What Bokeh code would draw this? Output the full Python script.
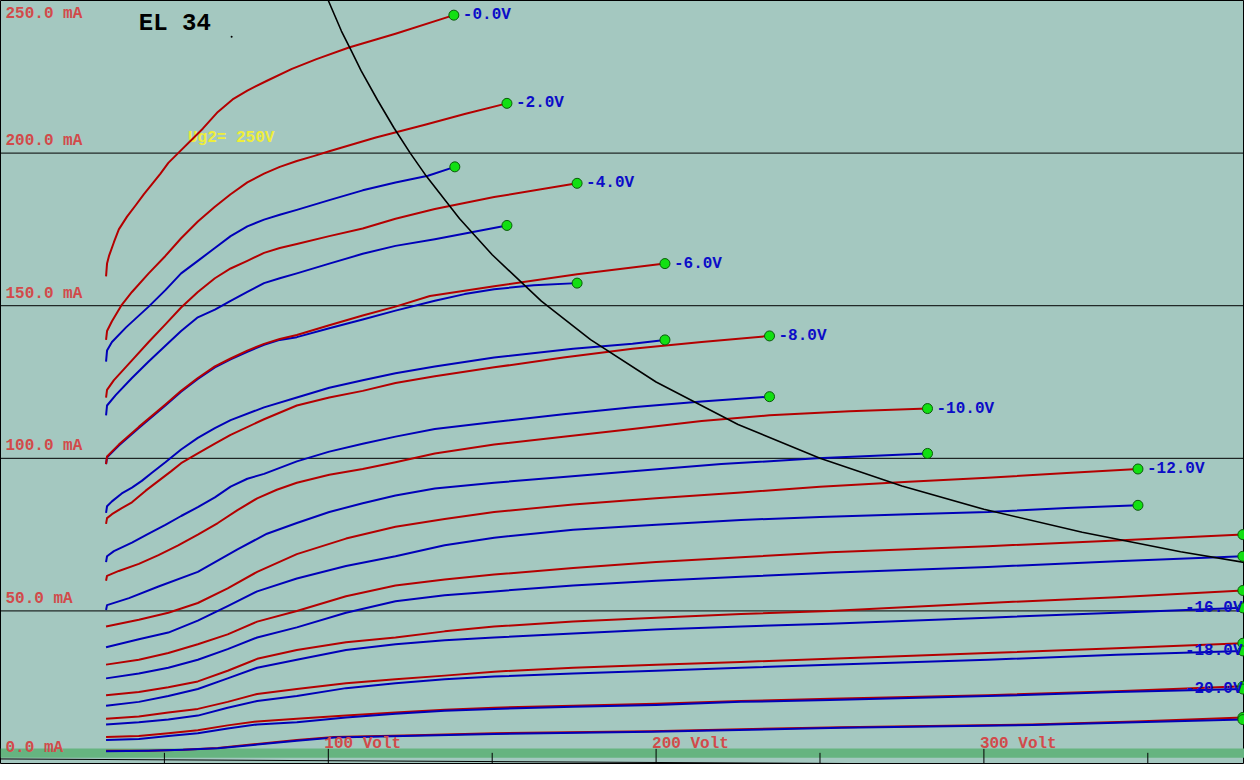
from bokeh.plotting import figure
from bokeh.models import Span, BoxAnnotation, ColumnDataSource
from bokeh.embed import file_html
from bokeh.resources import INLINE
from bokeh.core.properties import value

# ---------------- data (anode volts, anode mA) ----------------
# red family
r00_v = [32.2, 32.5, 33.1, 34.6, 36.1, 38.6, 41.3, 43.7, 46.1, 48.8, 51.2, 54.2, 61.7, 66.3,
         70.8, 75.3, 81.3, 88.9, 96.4, 106.3, 120.5, 138.3]
r00_i = [159.6, 163.8, 166.3, 170.8, 175.0, 179.2, 183.0, 186.5, 189.7, 193.3, 196.8, 200.0,
         208.0, 213.5, 217.6, 220.5, 223.7, 227.6, 230.8, 234.6, 239.1, 245.2]
r02_v = [32.2, 32.5, 34.0, 37.0, 40.1, 45.2, 50.3, 55.1, 60.2, 65.4, 70.2, 75.3, 80.4, 85.2,
         90.4, 95.5, 100.3, 114.5, 129.5, 141.6, 154.5]
r02_i = [138.8, 141.7, 144.9, 150.3, 154.5, 160.6, 166.3, 172.1, 177.6, 182.4, 186.5, 190.4,
         193.3, 195.5, 197.4, 199.0, 200.6, 205.1, 209.3, 212.8, 216.3]
r04_v = [32.2, 32.5, 34.6, 40.1, 45.2, 50.3, 55.1, 60.2, 65.4, 70.2, 75.3, 80.4, 85.2, 90.4,
         100.3, 110.5, 120.5, 132.5, 150.6, 175.9]
r04_i = [119.9, 122.4, 125.6, 132.1, 138.1, 143.9, 149.4, 154.5, 159.0, 162.2, 164.7, 167.3,
         168.9, 170.2, 172.8, 175.3, 178.5, 181.7, 185.6, 190.1]
r06_v = [32.2, 32.5, 36.1, 42.2, 50.3, 55.1, 60.2, 65.4, 70.2, 75.3, 80.4, 85.2, 90.4, 100.3,
         110.5, 120.5, 131.0, 150.6, 175.9, 202.7]
r06_i = [98.1, 100.6, 104.5, 110.3, 117.6, 122.1, 126.3, 130.1, 132.7, 135.3, 137.5, 139.1,
         140.4, 143.6, 146.8, 149.7, 153.2, 156.4, 160.3, 163.8]
r08_v = [32.2, 32.5, 34.0, 37.0, 40.1, 44.3, 48.2, 52.1, 55.1, 60.2, 65.4, 70.2, 80.4, 90.4,
         100.3, 110.5, 120.5, 132.5, 150.6, 171.7, 192.8, 213.9, 234.6]
r08_i = [78.5, 80.4, 81.7, 83.7, 85.6, 89.4, 92.6, 95.8, 98.4, 101.6, 104.8, 107.7, 112.8,
         117.3, 119.9, 122.1, 124.7, 126.9, 129.8, 133.0, 135.9, 138.1, 140.1]
r10_v = [32.2, 32.5, 36.1, 42.2, 48.2, 54.2, 60.2, 66.3, 72.3, 78.3, 84.3, 90.4, 100.3, 110.5,
         120.5, 132.5, 150.6, 171.7, 192.8, 213.9, 234.6, 259.0, 282.8]
r10_i = [59.9, 61.5, 63.1, 65.4, 68.3, 71.5, 75.0, 78.8, 83.0, 86.9, 89.7, 92.0, 94.6, 96.5,
         98.7, 101.6, 104.5, 107.1, 109.6, 112.2, 114.1, 115.4, 116.3]
r12_v = [32.2, 42.2, 51.2, 60.2, 69.3, 78.3, 90.4, 105.4, 120.5, 135.5, 150.6, 174.7, 200.0,
         225.9, 250.0, 277.1, 301.2, 325.3, 347.0]
r12_i = [44.9, 47.1, 49.4, 52.6, 57.4, 62.8, 68.6, 73.7, 77.6, 80.1, 82.4, 84.9, 86.9, 88.8,
         90.7, 92.3, 93.6, 95.2, 96.5]
r14_v = [32.2, 42.2, 51.2, 60.2, 69.3, 78.3, 90.4, 105.4, 120.5, 135.5, 150.6, 174.7, 200.0,
         225.9, 253.0, 301.2, 340.4, 379.0]
r14_i = [32.4, 34.0, 36.2, 39.1, 42.3, 46.5, 50.0, 54.8, 58.3, 60.3, 61.9, 64.1, 66.0, 67.6,
         69.2, 71.2, 73.1, 75.0]
r16_v = list(r14_v)
r16_i = [22.4, 23.4, 25.0, 26.9, 30.4, 34.3, 37.2, 39.7, 41.3, 43.3, 44.9, 46.5, 47.8, 49.0,
         50.0, 52.6, 54.5, 56.7]
r18_v = list(r14_v)
r18_i = [14.7, 15.4, 16.7, 17.9, 20.2, 22.8, 24.4, 26.3, 27.6, 28.8, 30.1, 31.4, 32.4, 33.3,
         34.3, 36.2, 37.8, 39.4]
r20_v = list(r14_v)
r20_i = [8.7, 9.0, 9.9, 10.9, 12.5, 13.8, 14.7, 15.7, 16.7, 17.6, 18.3, 18.9, 19.6, 20.5,
         21.2, 22.4, 23.7, 25.3]
r22_v = [32.2, 45.2, 55.7, 66.3, 78.3, 90.4, 101.8, 126.5, 150.6, 198.5, 256.6, 314.8, 346.4, 379.0]
r22_i = [4.2, 4.2, 4.5, 5.1, 6.4, 7.7, 8.7, 9.3, 9.9, 10.6, 11.9, 12.8, 13.8, 15.1]

# blue family
b00_v = [32.2, 32.5, 34.0, 38.3, 45.2, 50.3, 55.1, 60.2, 65.4, 70.2, 75.3, 80.4, 85.2, 90.4,
         100.3, 110.5, 120.5, 130.4, 138.6]
b00_i = [131.7, 135.3, 138.1, 142.9, 149.7, 155.1, 160.6, 164.7, 168.9, 172.8, 176.0, 178.2,
         179.8, 181.4, 184.6, 187.8, 190.4, 192.6, 195.5]
b02_v = [32.2, 32.5, 35.2, 40.1, 45.2, 50.3, 55.1, 60.2, 65.4, 70.2, 75.3, 80.4, 85.2, 90.4,
         100.3, 110.5, 120.5, 132.5, 154.5]
b02_i = [114.1, 117.3, 120.8, 126.3, 131.7, 136.9, 141.7, 146.2, 148.7, 151.6, 154.5, 157.4,
         159.0, 160.6, 163.8, 167.0, 169.6, 171.8, 176.3]
b04_v = [32.2, 32.5, 36.1, 42.2, 50.3, 55.1, 60.2, 65.4, 70.2, 75.3, 80.4, 85.2, 90.4, 100.3,
         110.5, 120.5, 132.5, 141.6, 150.6, 162.7, 175.9]
b04_i = [98.1, 100.3, 104.2, 109.9, 117.3, 121.8, 126.0, 129.8, 132.4, 134.9, 137.2, 138.8,
         139.7, 142.6, 145.5, 148.4, 151.6, 153.8, 155.4, 156.7, 157.4]
b06_v = [32.2, 32.5, 34.0, 37.0, 40.1, 43.1, 46.1, 50.3, 55.1, 60.2, 65.4, 70.2, 80.4, 90.4,
         100.3, 110.5, 120.5, 132.5, 150.6, 174.7, 192.8, 202.7]
b06_i = [82.1, 84.3, 85.9, 88.5, 90.4, 92.6, 95.2, 98.7, 102.9, 106.7, 109.9, 112.5, 116.7,
         119.9, 123.1, 125.6, 127.9, 130.1, 133.0, 135.9, 137.5, 138.8]
b08_v = [32.2, 32.5, 34.6, 40.1, 45.2, 50.3, 55.1, 60.2, 65.4, 70.2, 75.3, 80.4, 90.4, 100.3,
         110.5, 120.5, 132.5, 150.6, 171.7, 192.8, 213.9, 234.6]
b08_i = [66.0, 67.9, 69.6, 72.4, 75.3, 78.2, 81.1, 84.0, 87.2, 90.7, 93.3, 94.9, 99.0, 102.2,
         104.8, 107.1, 109.6, 111.9, 114.4, 116.7, 118.6, 120.2]
b10_v = [32.2, 32.5, 39.2, 48.2, 60.2, 72.3, 81.3, 90.4, 100.3, 110.5, 120.5, 132.5, 150.6,
         171.7, 192.8, 219.9, 249.1, 282.8]
b10_i = [50.3, 51.9, 54.2, 58.0, 62.8, 70.2, 75.3, 78.8, 82.4, 85.3, 87.8, 90.1, 92.0, 93.9,
         95.8, 98.1, 100.0, 101.6]
b12_v = list(r12_v)
b12_i = [38.1, 40.7, 42.9, 46.8, 51.6, 56.4, 60.6, 64.7, 67.9, 71.5, 74.0, 76.6, 78.2, 79.8,
         80.8, 81.7, 82.4, 83.7, 84.6]
b14_v = list(r14_v)
b14_i = [27.9, 29.5, 31.4, 34.0, 37.5, 41.3, 44.6, 49.4, 53.2, 55.1, 56.4, 58.3, 59.9, 61.2,
         62.5, 64.4, 66.3, 67.9]
b16_v = list(r14_v)
b16_i = [18.9, 20.2, 22.1, 24.4, 27.9, 31.4, 34.0, 37.2, 39.1, 40.4, 41.3, 42.6, 43.9, 44.9,
         45.8, 47.8, 49.4, 51.0]
b18_v = list(r14_v)
b18_i = [12.8, 13.5, 14.4, 15.7, 18.3, 20.5, 22.1, 24.7, 26.3, 27.6, 28.5, 29.5, 30.4, 31.4,
         32.4, 34.0, 35.6, 36.9]
b20_v = list(r14_v)
b20_i = [7.7, 8.0, 9.0, 9.9, 11.5, 12.8, 13.5, 15.1, 16.3, 17.3, 17.9, 18.6, 19.2, 20.2,
         20.8, 22.1, 23.4, 24.4]
b22_v = list(r22_v)
b22_i = [4.0, 4.2, 4.5, 5.0, 6.2, 7.5, 8.5, 9.1, 9.7, 10.4, 11.7, 12.6, 13.5, 14.4]

# labels of the red family (drawn beside the end point)
red_labels = ["-0.0V", "-2.0V", "-4.0V", "-6.0V", "-8.0V", "-10.0V", "-12.0V"]
# labels drawn at the right edge (next to blue end points of -16, -18, -20 V)
edge_labels = ["-16.0V", "-18.0V", "-20.0V"]

# 25 W anode dissipation limit
pmax_v = [100, 102, 104, 107, 110, 115, 120, 125, 130, 140, 150, 165, 180, 200, 225, 250,
          275, 300, 330, 360, 380]
pmax_i = [250, 245, 240, 233.6, 227, 217.4, 208.3, 200, 192.3, 178.6, 166.7, 151.5, 138.9,
          125, 111.1, 100, 90.9, 83.3, 75.8, 69.4, 65.8]

# faint baseline line at the bottom
base_v = [0, 380]
base_i = [1.5, -0.7]

y_ticks = [0, 50, 100, 150, 200, 250]
y_tick_labels = ["0.0 mA", "50.0 mA", "100.0 mA", "150.0 mA", "200.0 mA", "250.0 mA"]
x_major = [100, 200, 300]
x_major_labels = ["100 Volt", "200 Volt", "300 Volt"]
x_minor = [50, 150, 250, 350]

title_text = "EL 34"
note_text = "Ug2= 250V"

# ---------------- styling ----------------
BG = "#a4c8c0"
RED = "#b40000"
BLUE = "#0000b8"
AX_RED = "#d24a4a"
LBL_BLUE = "#0c0cc8"
DOT_FILL = "#12e012"
DOT_LINE = "#0a5a0a"
FONT = value("Liberation Mono")

X_END = 379.5
Y_START, Y_END = -0.32, 250.0

W, H = 1244, 764
p = figure(width=W, height=H, x_range=(0, X_END), y_range=(Y_START, Y_END),
           output_backend="svg", toolbar_location=None, min_border=0,
           x_axis_location=None, y_axis_location=None,
           background_fill_color=BG, border_fill_color=BG)
p.grid.visible = False
p.outline_line_color = "black"
p.outline_line_width = 1

# green band along the bottom
p.add_layout(BoxAnnotation(bottom=1.9, top=4.9, fill_color="#66b480", fill_alpha=1.0,
                           line_color=None, level="underlay"))
# horizontal grid lines
for t in y_ticks[1:]:
    p.add_layout(Span(location=t, dimension="width", line_color="black",
                      line_width=1, level="underlay"))

# bottom line and ticks
p.line(base_v, base_i, line_color="black", line_width=1)
p.segment(x0=x_major, y0=[Y_START] * len(x_major), x1=x_major, y1=[4.8] * len(x_major),
          line_color="black", line_width=1)
p.segment(x0=x_minor, y0=[Y_START] * len(x_minor), x1=x_minor, y1=[3.5] * len(x_minor),
          line_color="black", line_width=1)

# note text (under the curves)
p.text(x=[57.2], y=[204.8], text=[note_text], text_font=FONT, text_font_style="bold",
       text_font_size="16px", text_color="#eeee3a", text_align="left", text_baseline="middle")

red_curves = [(r00_v, r00_i), (r02_v, r02_i), (r04_v, r04_i), (r06_v, r06_i),
              (r08_v, r08_i), (r10_v, r10_i), (r12_v, r12_i), (r14_v, r14_i),
              (r16_v, r16_i), (r18_v, r18_i), (r20_v, r20_i), (r22_v, r22_i)]
blue_curves = [(b00_v, b00_i), (b02_v, b02_i), (b04_v, b04_i), (b06_v, b06_i),
               (b08_v, b08_i), (b10_v, b10_i), (b12_v, b12_i), (b14_v, b14_i),
               (b16_v, b16_i), (b18_v, b18_i), (b20_v, b20_i), (b22_v, b22_i)]

for (rv, ri), (bv, bi) in zip(red_curves, blue_curves):
    p.line(rv, ri, line_color=RED, line_width=2, line_join="round")
    p.line(bv, bi, line_color=BLUE, line_width=2, line_join="round")

# dissipation hyperbola
p.line(pmax_v, pmax_i, line_color="black", line_width=1.6, line_join="round")

# end dots
ends_v = [c[0][-1] for c in red_curves] + [c[0][-1] for c in blue_curves]
ends_i = [c[1][-1] for c in red_curves] + [c[1][-1] for c in blue_curves]
p.scatter(ends_v, ends_i, size=10, fill_color=DOT_FILL, line_color=DOT_LINE, line_width=1)

# red-curve labels
lab_src = ColumnDataSource(dict(
    x=[c[0][-1] for c in red_curves[:len(red_labels)]],
    y=[c[1][-1] for c in red_curves[:len(red_labels)]],
    t=red_labels))
p.text(x="x", y="y", text="t", source=lab_src, x_offset=9, text_font=FONT,
       text_font_style="bold", text_font_size="16px", text_color=LBL_BLUE,
       text_align="left", text_baseline="middle")

# labels at the right edge
edge_src = ColumnDataSource(dict(
    x=[X_END] * len(edge_labels),
    y=[c[1][-1] for c in blue_curves[8:8 + len(edge_labels)]],
    t=edge_labels))
p.text(x="x", y="y", text="t", source=edge_src, x_offset=-2, text_font=FONT,
       text_font_style="bold", text_font_size="16px", text_color=LBL_BLUE,
       text_align="right", text_baseline="middle")

# y axis labels inside the plot
yo = [-16 if t == y_ticks[0] else (13 if t == y_ticks[-1] else -12) for t in y_ticks]
ylab_src = ColumnDataSource(dict(x=[0] * len(y_ticks), y=y_ticks, t=y_tick_labels, yo=yo))
p.text(x="x", y="y", text="t", source=ylab_src, x_offset=5, y_offset="yo", text_font=FONT,
       text_font_style="bold", text_font_size="16px", text_color=AX_RED,
       text_align="left", text_baseline="middle")

# x axis labels inside the plot
p.text(x=x_major, y=[0] * len(x_major), text=x_major_labels, x_offset=-4, y_offset=-20,
       text_font=FONT, text_font_style="bold", text_font_size="16px", text_color=AX_RED,
       text_align="left", text_baseline="middle")

# title
p.text(x=[42.2], y=[242.6], text=[title_text], text_font=FONT, text_font_style="bold",
       text_font_size="24px", text_color="black", text_align="left", text_baseline="middle")
p.scatter([70.5], [238.1], size=2, fill_color="black", line_color=None)

open("out.html", "w").write(file_html(p, INLINE))
